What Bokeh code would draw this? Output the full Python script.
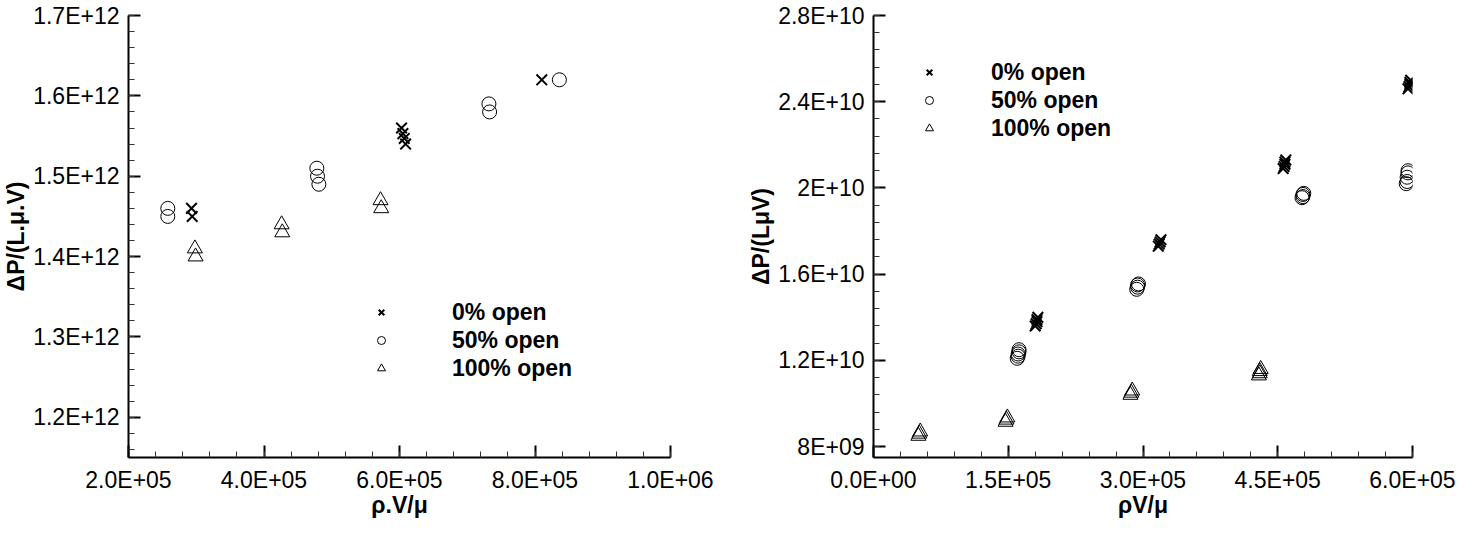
import numpy as np
from bokeh.plotting import figure
from bokeh.layouts import row
from bokeh.models import FixedTicker, CustomJSTickFormatter, Range1d, Legend, LegendItem
from bokeh.embed import file_html
from bokeh.resources import INLINE

# ---------------- left chart data ----------------
left_x_0 = [2.93e5, 2.94e5, 6.03e5, 6.05e5, 6.07e5, 6.09e5, 8.10e5]
left_y_0 = [1.46e12, 1.45e12, 1.56e12, 1.553e12, 1.547e12, 1.54e12, 1.62e12]
left_x_50 = [2.58e5, 2.58e5, 4.78e5, 4.79e5, 4.81e5, 7.32e5, 7.33e5, 8.36e5]
left_y_50 = [1.46e12, 1.45e12, 1.51e12, 1.50e12, 1.49e12, 1.59e12, 1.58e12, 1.62e12]
left_x_100 = [2.98e5, 2.99e5, 4.26e5, 4.27e5, 5.72e5, 5.73e5]
left_y_100 = [1.41e12, 1.40e12, 1.44e12, 1.43e12, 1.47e12, 1.46e12]

left_x_ticks = [2e5, 4e5, 6e5, 8e5, 1e6]
left_x_labels = ["2.0E+05", "4.0E+05", "6.0E+05", "8.0E+05", "1.0E+06"]
left_y_ticks = [1.2e12, 1.3e12, 1.4e12, 1.5e12, 1.6e12, 1.7e12]
left_y_labels = ["1.2E+12", "1.3E+12", "1.4E+12", "1.5E+12", "1.6E+12", "1.7E+12"]

# ---------------- right chart data ----------------
right_x_0 = [1.80e5, 1.81e5, 1.82e5, 1.82e5, 1.83e5,
             3.17e5, 3.18e5, 3.19e5, 3.20e5,
             4.56e5, 4.57e5, 4.58e5, 4.58e5, 4.59e5,
             5.95e5, 5.96e5, 5.97e5, 5.97e5, 5.98e5]
right_y_0 = [1.36e10, 1.37e10, 1.38e10, 1.39e10, 1.40e10,
             1.73e10, 1.74e10, 1.75e10, 1.76e10,
             2.09e10, 2.10e10, 2.11e10, 2.12e10, 2.13e10,
             2.46e10, 2.47e10, 2.48e10, 2.49e10, 2.50e10]
right_x_50 = [1.60e5, 1.61e5, 1.61e5, 1.62e5, 1.62e5,
              2.93e5, 2.94e5, 2.94e5, 2.95e5,
              4.77e5, 4.78e5, 4.78e5, 4.79e5,
              5.93e5, 5.94e5, 5.94e5, 5.95e5, 5.95e5]
right_y_50 = [1.21e10, 1.22e10, 1.23e10, 1.24e10, 1.25e10,
              1.53e10, 1.54e10, 1.55e10, 1.555e10,
              1.955e10, 1.96e10, 1.97e10, 1.975e10,
              2.02e10, 2.03e10, 2.05e10, 2.07e10, 2.08e10]
right_x_100 = [5.0e4, 5.1e4, 5.2e4,
               1.47e5, 1.48e5, 1.49e5,
               2.86e5, 2.87e5, 2.88e5,
               4.29e5, 4.30e5, 4.30e5, 4.31e5]
right_y_100 = [8.5e9, 8.6e9, 8.7e9,
               9.15e9, 9.25e9, 9.35e9,
               1.04e10, 1.05e10, 1.06e10,
               1.13e10, 1.14e10, 1.15e10, 1.16e10]

right_x_ticks = [0, 1.5e5, 3e5, 4.5e5, 6e5]
right_x_labels = ["0.0E+00", "1.5E+05", "3.0E+05", "4.5E+05", "6.0E+05"]
right_y_ticks = [8e9, 1.2e10, 1.6e10, 2e10, 2.4e10, 2.8e10]
right_y_labels = ["8E+09", "1.2E+10", "1.6E+10", "2E+10", "2.4E+10", "2.8E+10"]

legend_labels = ["0% open", "50% open", "100% open"]

FONT = "Liberation Sans"
FS = "23px"
JS = """
let best = 0; let bd = Infinity;
for (let i = 0; i < vals.length; i++) {
  const d = Math.abs(vals[i] - tick);
  if (d < bd) { bd = d; best = i; }
}
return labels[best];
"""


def fmt(vals, labels):
    return CustomJSTickFormatter(args=dict(vals=list(vals), labels=list(labels)), code=JS)


def style(p, xt, xl, xminor, yt, yl, yminor, xtitle, ytitle):
    p.xaxis.ticker = FixedTicker(ticks=xt, minor_ticks=xminor)
    p.yaxis.ticker = FixedTicker(ticks=yt, minor_ticks=yminor)
    p.xaxis.formatter = fmt(xt, xl)
    p.yaxis.formatter = fmt(yt, yl)
    p.xaxis.axis_label = xtitle
    p.yaxis.axis_label = ytitle
    p.xgrid.visible = False
    p.ygrid.visible = False
    p.outline_line_color = None
    for ax in (p.xaxis[0], p.yaxis[0]):
        ax.axis_line_width = 2
        ax.axis_line_color = "black"
        ax.major_tick_in = 12
        ax.major_tick_out = 0
        ax.minor_tick_in = 6
        ax.minor_tick_out = 0
        ax.major_tick_line_width = 2
        ax.major_tick_line_color = "black"
        ax.minor_tick_line_width = 1
        ax.minor_tick_line_color = "#333333"
        ax.major_label_text_font = FONT
        ax.major_label_text_font_size = FS
        ax.major_label_text_color = "black"
        ax.axis_label_text_font = FONT
        ax.axis_label_text_font_style = "bold"
        ax.axis_label_text_font_size = FS
        ax.axis_label_text_color = "black"
    p.xaxis.major_label_standoff = 9
    p.xaxis.axis_label_standoff = -4
    p.yaxis.major_label_standoff = 9
    p.yaxis.axis_label_standoff = 1


def add_series(p, x0, y0, x50, y50, x100, y100):
    r0 = p.scatter(x0, y0, marker="x", size=15, line_color="black", line_width=2)
    r50 = p.scatter(x50, y50, marker="circle", size=14, fill_color=None,
                    line_color="black", line_width=1)
    r100 = p.scatter(x100, y100, marker="triangle", size=15, fill_color=None,
                     line_color="black", line_width=1)
    return [r0, r50, r100]


def add_legend(p, rs, loc, standoff):
    items = [LegendItem(label=l, renderers=[r]) for l, r in zip(legend_labels, rs)]
    lg = Legend(items=items, location=loc, padding=0, spacing=0, margin=0,
                glyph_width=20, glyph_height=28, label_height=28,
                label_standoff=standoff, border_line_color=None,
                background_fill_alpha=0,
                label_text_font=FONT, label_text_font_style="bold",
                label_text_font_size=FS, label_text_color="black")
    p.add_layout(lg, "center")


# ---------------- left figure ----------------
p1 = figure(width=745, height=520, output_backend="svg", toolbar_location=None,
            x_range=Range1d(2e5, 1e6), y_range=Range1d(1.15e12, 1.7e12 * (1 + 1e-9)),
            min_border_left=125, min_border_right=75, min_border_top=15,
            min_border_bottom=57)
style(p1, left_x_ticks, left_x_labels, list(np.arange(2e5, 1.0001e6, 4e4)),
      left_y_ticks, left_y_labels, list(np.arange(1.16e12, 1.7001e12, 2e10)),
      "ρ.V/μ", "ΔP/(L.μ.V)")
rs1 = add_series(p1, left_x_0, left_y_0, left_x_50, left_y_50, left_x_100, left_y_100)
add_legend(p1, rs1, (243, 75), 61)

# ---------------- right figure ----------------
p2 = figure(width=720, height=520, output_backend="svg", toolbar_location=None,
            x_range=Range1d(0, 6e5 * (1 + 1e-9)), y_range=Range1d(7.5e9, 2.8e10 * (1 + 1e-9)),
            min_border_left=124, min_border_right=53, min_border_top=15,
            min_border_bottom=57)
style(p2, right_x_ticks, right_x_labels, list(np.arange(0, 6.0001e5, 3e4)),
      right_y_ticks, right_y_labels, list(np.arange(8e9, 2.8001e10, 8e8)),
      "ρV/μ", "ΔP/(LμV)")
rs2 = add_series(p2, right_x_0, right_y_0, right_x_50, right_y_50, right_x_100, right_y_100)
add_legend(p2, rs2, (46, 315), 52)

layout = row(p1, p2)
open("out.html", "w").write(file_html(layout, INLINE))
